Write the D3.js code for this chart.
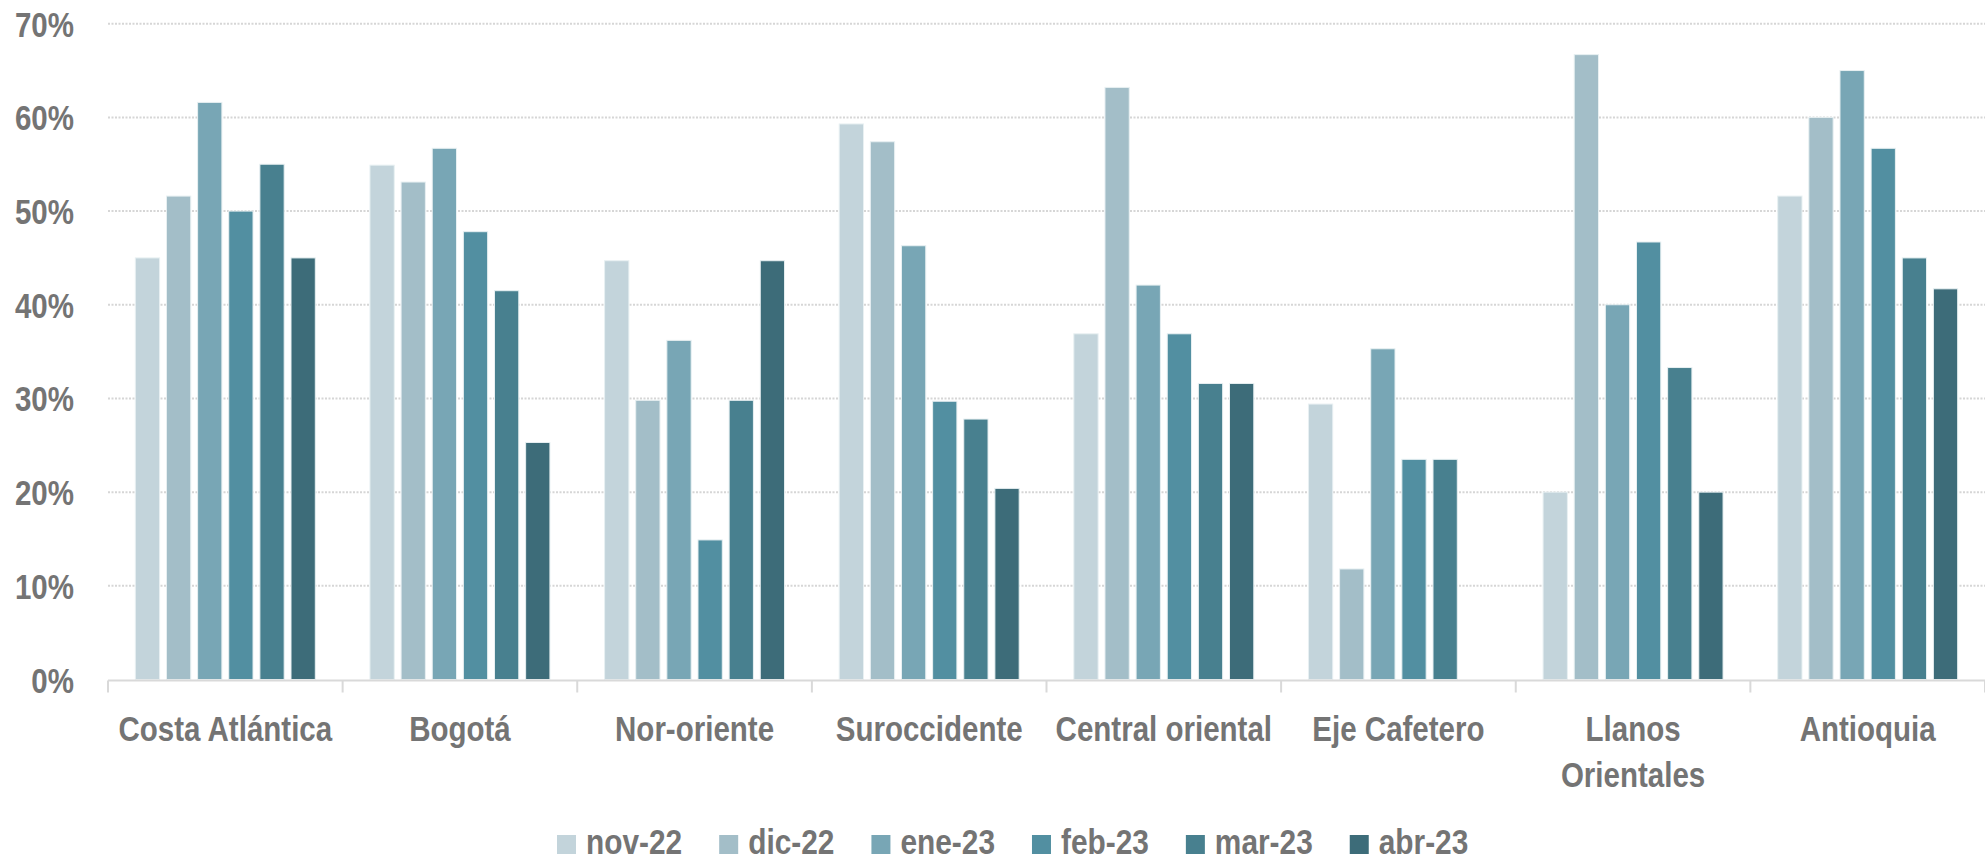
<!DOCTYPE html>
<html>
<head>
<meta charset="utf-8">
<script src="https://cdn.jsdelivr.net/npm/d3@7"></script>
<style>
  body { margin: 0; background: #fff; }
  svg text { font-family: "Liberation Sans", Arial, sans-serif; font-weight: bold; fill: #747474; }
</style>
</head>
<body>
<svg width="1985" height="863"></svg>
<script>
var categories = ["Costa Atlántica", "Bogotá", "Nor-oriente", "Suroccidente", "Central oriental", "Eje Cafetero", "Llanos Orientales", "Antioquia"];
var seriesNames = ["nov-22", "dic-22", "ene-23", "feb-23", "mar-23", "abr-23"];
var nov22 = [45.0, 54.9, 44.7, 59.3, 36.9, 29.4, 20.0, 51.6];
var dic22 = [51.6, 53.1, 29.8, 57.4, 63.2, 11.8, 66.7, 60.0];
var ene23 = [61.6, 56.7, 36.2, 46.3, 42.1, 35.3, 40.0, 65.0];
var feb23 = [50.0, 47.8, 14.9, 29.7, 36.9, 23.5, 46.7, 56.7];
var mar23 = [55.0, 41.5, 29.8, 27.8, 31.6, 23.5, 33.3, 45.0];
var abr23 = [45.0, 25.3, 44.7, 20.4, 31.6, null, 20.0, 41.7];
var yTicks = [0, 10, 20, 30, 40, 50, 60, 70];
var colors = ["#c3d4db", "#a3bec8", "#78a6b5", "#528fa1", "#48808f", "#3d6c79"];

function main() {
    var svg = d3.select("svg");
    var values = [nov22, dic22, ene23, feb23, mar23, abr23];
    var sx = 0.82; // narrow text

    var x0 = d3.scaleBand().domain(categories).range([108, 1985])
               .paddingInner(0.233).paddingOuter(0.1165);
    var x1 = d3.scaleBand().domain(seriesNames).range([0, x0.bandwidth()]).paddingInner(0.22);
    var y = d3.scaleLinear().domain([0, 70]).range([679.5, 23.7]);
    var color = d3.scaleOrdinal(seriesNames, colors);

    // gridlines
    svg.append("g").selectAll("line")
       .data(yTicks.filter(function(d) { return d > 0; }))
       .enter().append("line")
       .attr("x1", 108).attr("x2", 1985)
       .attr("y1", function(d) { return y(d); })
       .attr("y2", function(d) { return y(d); })
       .attr("stroke", "#d6d6d6").attr("stroke-width", 2)
       .attr("stroke-dasharray", "2,1.5");

    // y labels
    svg.append("g").selectAll("text")
       .data(yTicks).enter().append("text")
       .attr("transform", function(d) { return "translate(74," + (y(d) + 13) + ") scale(" + sx + ",1)"; })
       .attr("text-anchor", "end")
       .style("font-size", "36px")
       .text(function(d) { return d + "%"; });

    // bars
    var groups = svg.append("g").selectAll("g")
       .data(categories).enter().append("g")
       .attr("transform", function(d) { return "translate(" + x0(d) + ",0)"; });

    groups.selectAll("rect")
       .data(function(c, ci) {
           return seriesNames.map(function(s, si) { return { s: s, v: values[si][ci] }; })
                             .filter(function(d) { return d.v != null; });
       })
       .enter().append("rect")
       .attr("x", function(d) { return x1(d.s); })
       .attr("width", x1.bandwidth())
       .attr("y", function(d) { return y(d.v); })
       .attr("height", function(d) { return y(0) - y(d.v); })
       .attr("fill", function(d) { return color(d.s); })
       .attr("stroke", "#e8f0f2").attr("stroke-width", 1);

    // x axis line and ticks
    svg.append("line")
       .attr("x1", 108).attr("x2", 1985)
       .attr("y1", y(0) + 1).attr("y2", y(0) + 1)
       .attr("stroke", "#d9d9d9").attr("stroke-width", 2);
    var bounds = categories.map(function(c) { return x0(c) - x0.step() * 0.1165; });
    bounds.push(1985);
    svg.append("g").selectAll("line")
       .data(bounds).enter().append("line")
       .attr("x1", function(d) { return d; }).attr("x2", function(d) { return d; })
       .attr("y1", y(0) + 1).attr("y2", y(0) + 13)
       .attr("stroke", "#d9d9d9").attr("stroke-width", 2);

    // x labels
    var labels = svg.append("g").selectAll("text")
       .data(categories).enter().append("text")
       .attr("transform", function(d) { return "translate(" + (x0(d) + x0.bandwidth() / 2) + ",741) scale(" + sx + ",1)"; })
       .attr("text-anchor", "middle")
       .style("font-size", "36px");
    labels.each(function(d) {
        var words = d === "Llanos Orientales" ? ["Llanos", "Orientales"] : [d];
        var t = d3.select(this);
        words.forEach(function(w, i) {
            t.append("tspan").attr("x", 0).attr("y", i * 46).text(w);
        });
    });

    // legend
    var lx = 557;
    seriesNames.forEach(function(s) {
        svg.append("rect")
           .attr("x", lx).attr("y", 835).attr("width", 19).attr("height", 19)
           .attr("fill", color(s));
        var t = svg.append("text")
           .attr("transform", "translate(" + (lx + 29) + ",854) scale(" + (sx * 1.04) + ",1)")
           .style("font-size", "35px")
           .text(s);
        lx = lx + 29 + t.node().getComputedTextLength() * sx * 1.04 + 37;
    });
}
main();
</script>
</body>
</html>
